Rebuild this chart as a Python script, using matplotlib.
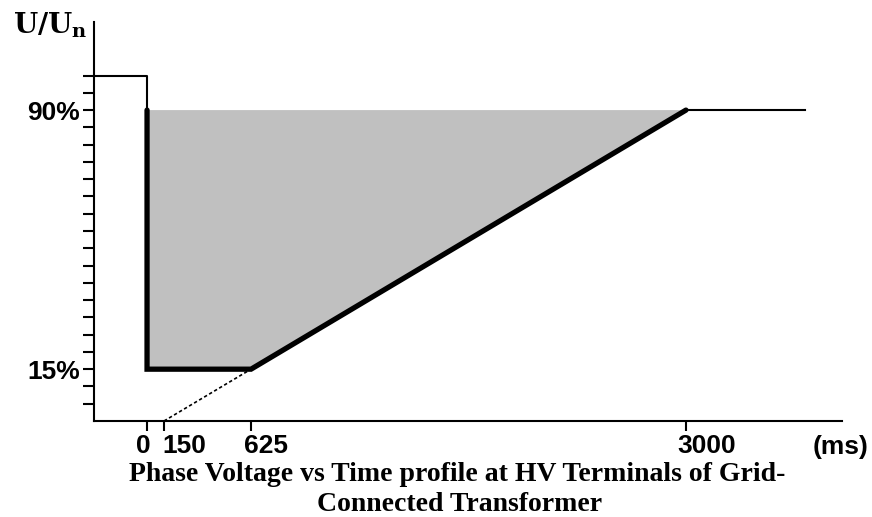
import numpy as np
import matplotlib
matplotlib.use('Agg')
import matplotlib.pyplot as plt
from matplotlib.transforms import ScaledTranslation

# ---------------- data ----------------
tick_ms = [0, 150, 625, 3000]
tick_labels = ['0', '150', '625', '3000']
y_label_values = [15, 90]
y_labels = ['15%', '90%']
y_minor = list(range(5, 101, 5))

pre_fault_t = [-468, 0, 0]
pre_fault_u = [100, 100, 90]
profile_t = [0, 0, 625, 3000]
profile_u = [90, 15, 15, 90]
post_t = [3000, 3650]
post_u = [90, 90]
extension_t = [150, 625]
extension_u = [0, 15]
fill_t = [0, 0, 625, 3000]
fill_u = [90, 15, 15, 90]

x_limits = [-468, 3852]
y_limits = [0, 115.5]

title_lines = ['Phase Voltage vs Time profile at HV Terminals of Grid-',
               'Connected Transformer']

# schematic (not-to-scale) time axis: piecewise linear scale
scale_ms = np.array([0, 150, 625, 3000], dtype=float)
scale_pos = np.array([53, 70, 157, 592], dtype=float)
# horizontal nudges of the tick labels (pixels)
label_dx = [-11, -2, -7, -9]


def _pw(x, xs, ys):
    x = np.asarray(x, dtype=float)
    y = np.interp(x, xs, ys)
    s0 = (ys[1] - ys[0]) / (xs[1] - xs[0])
    s1 = (ys[-1] - ys[-2]) / (xs[-1] - xs[-2])
    y = np.where(x < xs[0], ys[0] + (x - xs[0]) * s0, y)
    y = np.where(x > xs[-1], ys[-1] + (x - xs[-1]) * s1, y)
    return y


def forward(x):
    return _pw(x, scale_ms, scale_pos)


def inverse(y):
    return _pw(y, scale_pos, scale_ms)


plt.rcParams['font.family'] = ['Liberation Sans', 'DejaVu Sans']
plt.rcParams['mathtext.fontset'] = 'dejavuserif'

fig = plt.figure(figsize=(8.72, 5.17), dpi=100)
ax = fig.add_axes([94 / 872, 1 - 421 / 517, (842 - 94) / 872, (421 - 22) / 517])
ax.set_xscale('function', functions=(forward, inverse))
ax.set_xlim(x_limits)
ax.set_ylim(y_limits)

ax.fill(fill_t, fill_u, color='#c0c0c0', lw=0, zorder=1)
ax.plot(pre_fault_t, pre_fault_u, color='black', lw=1.5, zorder=2, clip_on=False)
ax.plot(post_t, post_u, color='black', lw=1.5, zorder=2)
ax.plot(profile_t, profile_u, color='black', lw=3.8, zorder=3,
        solid_joinstyle='miter', solid_capstyle='round')
ax.plot(extension_t, extension_u, color='black', lw=1.2, ls=(0, (2, 1.5)), zorder=2)

for s in ['top', 'right']:
    ax.spines[s].set_visible(False)
for s in ['left', 'bottom']:
    ax.spines[s].set_linewidth(1.5)

ax.set_yticks(y_minor, minor=True)
ax.set_yticks(y_label_values, labels=y_labels)
ax.tick_params(axis='y', which='both', length=8, width=1.5, direction='out', pad=2,
               labelsize=19)
ax.set_xticks(tick_ms, labels=tick_labels)
ax.xaxis.set_minor_locator(matplotlib.ticker.NullLocator())
ax.tick_params(axis='x', which='both', length=7.5, width=1.5, direction='out', pad=2,
               labelsize=19)
for lbl in ax.get_yticklabels():
    lbl.set_fontweight('bold')
for lbl, dx in zip(ax.get_xticklabels(), label_dx):
    lbl.set_fontweight('bold')
    lbl.set_horizontalalignment('left')
    lbl.set_transform(lbl.get_transform() + ScaledTranslation(dx / 100, 0, fig.dpi_scale_trans))

fig.text(813 / 872, 1 - 447 / 517, '(ms)', fontsize=19, fontweight='bold',
         ha='left', va='center')
fig.text(13 / 872, 1 - 33 / 517, r'U/U$_{\mathbf{n}}$', fontfamily='DejaVu Serif',
         fontweight='bold', fontsize=20, ha='left', va='baseline')

fig.text(457 / 872, 1 - 481 / 517, title_lines[0], fontfamily='Liberation Serif',
         fontweight='bold', fontsize=20, ha='center', va='baseline')
fig.text(460 / 872, 1 - 511 / 517, title_lines[1], fontfamily='Liberation Serif',
         fontweight='bold', fontsize=20, ha='center', va='baseline')

fig.savefig('out.png', dpi=100)
